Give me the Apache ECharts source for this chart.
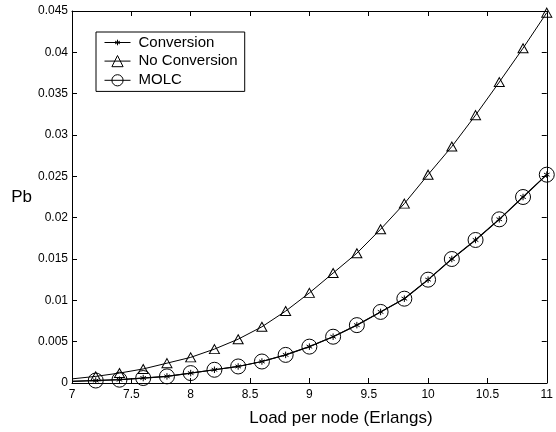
<!DOCTYPE html>
<html>
<head>
<meta charset="utf-8">
<script src="https://cdn.jsdelivr.net/npm/echarts@6/dist/echarts.min.js"></script>
<style>html,body{margin:0;padding:0;background:#fff}#c{width:556px;height:432px}</style>
</head>
<body>
<div id="c"></div>
<script>
var loads = [7.0,7.2,7.4,7.6,7.8,8.0,8.2,8.4,8.6,8.8,9.0,9.2,9.4,9.6,9.8,10.0,10.2,10.4,10.6,10.8,11.0];
var noConversion = [0.0005,0.0008,0.0012,0.0017,0.0024,0.0031,0.0041,0.0053,0.0068,0.0087,0.0109,0.0133,0.0157,0.0186,0.0217,0.0252,0.0286,0.0324,0.0364,0.0405,0.0448];
var conversion = [0.0002,0.0003,0.0004,0.0006,0.0008,0.0012,0.0016,0.0020,0.0026,0.0034,0.0044,0.0056,0.0070,0.0086,0.0102,0.0125,0.0150,0.0173,0.0198,0.0225,0.0252];
var molc = [0.0002,0.0003,0.0004,0.0006,0.0008,0.0012,0.0016,0.0020,0.0026,0.0034,0.0044,0.0056,0.0070,0.0086,0.0102,0.0125,0.0150,0.0173,0.0198,0.0225,0.0252];
var seriesNames = ['Conversion','No Conversion','MOLC'];
var xTicks = {min:7, max:11, interval:0.5};
var yTicks = {min:0, max:0.045, interval:0.005};

function pts(vals){
  return loads.map(function(x,i){
    var d = {value:[x, vals[i]]};
    if (i === 0) d.symbol = 'none';
    return d;
  });
}
var font = 'Liberation Sans, Arial, Helvetica, sans-serif';
// asterisk marker, padded with move-to points so it draws at half the symbol box
var star = 'path://M-10,-10M10,10M0,-5L0,5M-4.3,-2.5L4.3,2.5M-4.3,2.5L4.3,-2.5';
var chart = echarts.init(document.getElementById('c'), null, {renderer:'canvas'});
var axisCommon = {
  axisLine:{show:true, onZero:false, lineStyle:{color:'#000', width:1}},
  axisTick:{show:true, inside:true, length:5, lineStyle:{color:'#000'}},
  splitLine:{show:false}
};
chart.setOption({
  animation:false,
  backgroundColor:'#fff',
  textStyle:{fontFamily:font},
  grid:{left:72, right:8, top:11, bottom:46, containLabel:false},
  legend:{
    data:seriesNames, orient:'vertical', left:96, top:32,
    backgroundColor:'#fff', borderColor:'#000', borderWidth:1,
    padding:[3,7,3,8], itemGap:3, itemWidth:26, itemHeight:14,
    lineStyle:{width:1},
    itemStyle:{borderWidth:1},
    textStyle:{fontFamily:font, fontSize:15, lineHeight:14, color:'#000', padding:[0,0,0,3]},
    selectedMode:false
  },
  xAxis:[
    Object.assign({type:'value', position:'bottom', min:xTicks.min, max:xTicks.max, interval:xTicks.interval,
      name:'Load per node (Erlangs)', nameLocation:'middle', nameGap:27,
      nameTextStyle:{fontFamily:font, fontSize:17, color:'#000', padding:[0,0,0,63]},
      axisLabel:{color:'#000', fontSize:12, fontFamily:font, margin:6}}, axisCommon),
    Object.assign({type:'value', position:'top', min:xTicks.min, max:xTicks.max, interval:xTicks.interval,
      axisLabel:{show:false}}, axisCommon)
  ],
  yAxis:[
    Object.assign({type:'value', position:'left', min:yTicks.min, max:yTicks.max, interval:yTicks.interval,
      name:'Pb', nameLocation:'middle', nameRotate:0, nameGap:40,
      nameTextStyle:{fontFamily:font, fontSize:17, color:'#000', padding:[9,0,0,0]},
      axisLabel:{color:'#000', fontSize:12, fontFamily:font, margin:4,
        formatter:function(v){return String(+v.toFixed(3));}}}, axisCommon),
    Object.assign({type:'value', position:'right', min:yTicks.min, max:yTicks.max, interval:yTicks.interval,
      axisLabel:{show:false}}, axisCommon)
  ],
  series:[
    {name:seriesNames[0], type:'line', data:pts(conversion), symbol:star, symbolSize:13,
      itemStyle:{color:'#000', borderColor:'#000', borderWidth:1},
      lineStyle:{color:'#000', width:1.2}, z:3},
    {name:seriesNames[1], type:'line', data:pts(noConversion), symbol:'triangle', symbolSize:[10,9],
      itemStyle:{color:'none', borderColor:'#000', borderWidth:1},
      lineStyle:{color:'#000', width:1}, z:3},
    {name:seriesNames[2], type:'line', data:pts(molc), symbol:'circle', symbolSize:15,
      itemStyle:{color:'none', borderColor:'#000', borderWidth:1},
      lineStyle:{color:'#000', width:1}, z:4}
  ]
});
</script>
</body>
</html>
